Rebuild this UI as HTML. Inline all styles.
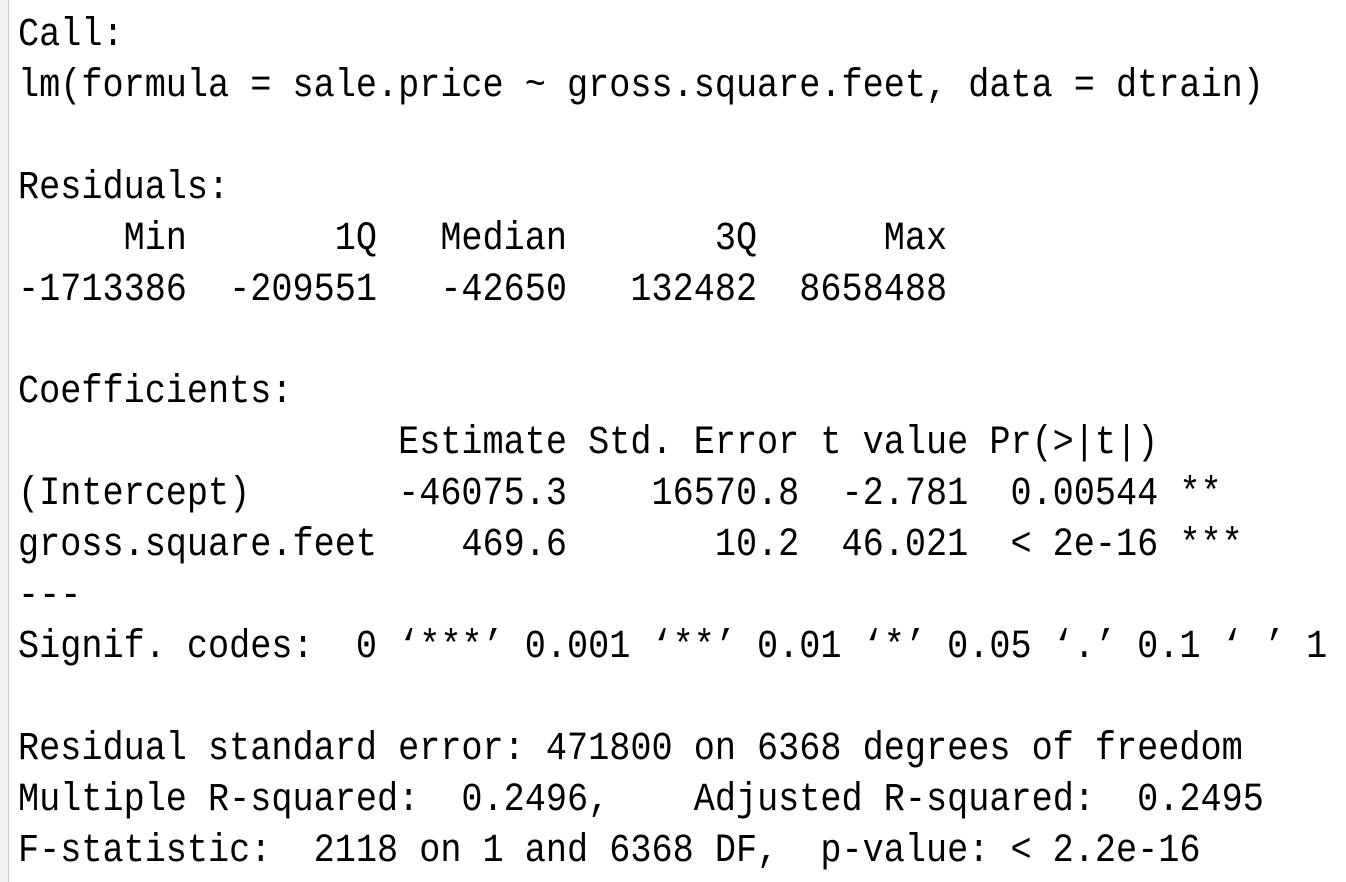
<!DOCTYPE html>
<html><head><meta charset="utf-8"><style>
html,body{margin:0;padding:0;width:1346px;height:882px;overflow:hidden;background:#fff;}
.strip{position:absolute;left:0;top:0;width:8px;height:882px;background:#f0f0f0;border-right:1px solid #c8c8c8;}
pre{position:absolute;left:18px;top:11px;margin:0;font-family:"Liberation Mono",monospace;font-size:35.2px;line-height:51px;color:#000;}
.l{display:block;height:51px;transform:scaleY(1.12);transform-origin:0 70%;}
</style></head><body>
<div class="strip"></div>
<pre><span class="l">Call:</span><span class="l">lm(formula = sale.price ~ gross.square.feet, data = dtrain)</span><span class="l"> </span><span class="l">Residuals:</span><span class="l">     Min       1Q   Median       3Q      Max </span><span class="l">-1713386  -209551   -42650   132482  8658488 </span><span class="l"> </span><span class="l">Coefficients:</span><span class="l">                  Estimate Std. Error t value Pr(&gt;|t|)    </span><span class="l">(Intercept)       -46075.3    16570.8  -2.781  0.00544 ** </span><span class="l">gross.square.feet    469.6       10.2  46.021  &lt; 2e-16 ***</span><span class="l">---</span><span class="l">Signif. codes:  0 ‘***’ 0.001 ‘**’ 0.01 ‘*’ 0.05 ‘.’ 0.1 ‘ ’ 1</span><span class="l"> </span><span class="l">Residual standard error: 471800 on 6368 degrees of freedom</span><span class="l">Multiple R-squared:  0.2496,	Adjusted R-squared:  0.2495 </span><span class="l">F-statistic:  2118 on 1 and 6368 DF,  p-value: &lt; 2.2e-16</span></pre>
</body></html>
